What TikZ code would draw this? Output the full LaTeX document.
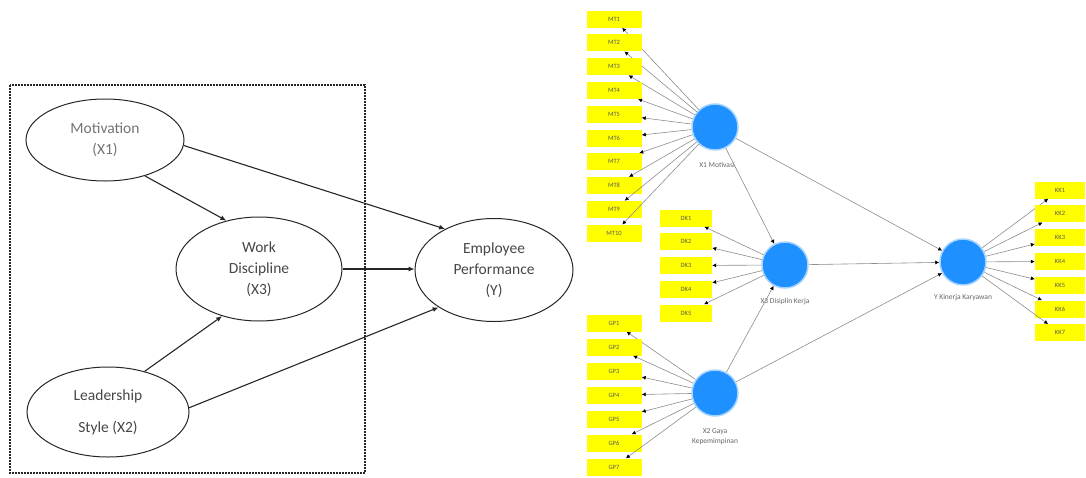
\documentclass[tikz,border=0pt]{standalone}
\usepackage{fontspec}
\setmainfont{Carlito}
\usetikzlibrary{arrows.meta,shapes.geometric}
\definecolor{plsblue}{RGB}{30,144,255}
\definecolor{plsyellow}{RGB}{255,255,0}
\definecolor{txtgray}{RGB}{70,70,70}
\definecolor{linegray}{RGB}{140,140,140}
\tikzset{
  lat/.style={ellipse,draw=black!85,line width=1pt,text=txtgray,align=center,inner sep=0pt,font=\fontsize{15.5}{21}\selectfont},
  patharrow/.style={draw=black!85,line width=1.1pt,-{Latex[length=6pt,width=5pt]}},
  ind/.style={rectangle,fill=plsyellow,minimum width=53pt,minimum height=17pt,inner sep=0pt,text=black!65,font=\fontsize{6.5}{7}\selectfont},
  cons/.style={circle,fill=plsblue,draw=plsblue!40,line width=1.5pt,minimum size=46pt,inner sep=0pt},
  plslbl/.style={text=black!60,font=\fontsize{7.5}{10}\selectfont,align=center,inner sep=0pt},
  plsarrow/.style={draw=linegray,line width=0.6pt,-{Latex[length=4pt,width=4pt,color=black]}}
}
\begin{document}
\begin{tikzpicture}[x=1pt,y=-1pt]
\useasboundingbox (0,0) rectangle (1086,477);
% ---------- left conceptual model ----------
\draw[line width=2.4pt,dash pattern=on 1.8pt off 1.2pt,black!85] (10,85) rectangle (365,473);
\node[lat,minimum width=158pt,minimum height=82pt,text=black!55] (x1) at (105,140) {Motivation\\(X1)};
\node[lat,minimum width=166pt,minimum height=104pt] (wd) at (259,269) {Work\\Discipline\\(X3)};
\node[lat,minimum width=162pt,minimum height=90pt,font=\fontsize{15.5}{32}\selectfont] (ls) at (108,412) {Leadership\\Style (X2)};
\node[lat,minimum width=158pt,minimum height=103pt] (ep) at (494,270) {Employee\\Performance\\(Y)};
\draw[patharrow] (x1.-4) -- (ep.140);
\draw[patharrow] (x1.-42) -- (wd.124);
\draw[patharrow] (wd.east) -- (wd.east -| ep.west);
\draw[patharrow] (ls.48) -- (wd.232);
\draw[patharrow] (ls.3) -- (ep.214);
% ---------- right SmartPLS model ----------
\node[cons] (cx1) at (715,127) {};
\node[cons] (cx3) at (785,265) {};
\node[cons] (cx2) at (715,393) {};
\node[cons] (cy) at (963,262) {};
\node[plslbl] (lx1) at (717,165) {X1 Motivasi};
\node[plslbl] (lx3) at (785,302) {X3 Disiplin Kerja};
\node[plslbl] (lx2) at (715,437) {X2 Gaya\\Kepemimpinan};
\node[plslbl] (ly) at (963,298) {Y Kinerja Karyawan};
\foreach \i in {1,...,10} {
  \node[ind,minimum width=55pt] (mt\i) at (614,{19+23.8*(\i-1)}) {MT\i};
  \draw[plsarrow] (cx1) -- (mt\i);
}
\foreach \i in {1,...,5} {
  \node[ind,minimum width=52pt] (dk\i) at (686,{218+23.75*(\i-1)}) {DK\i};
  \draw[plsarrow] (cx3) -- (dk\i);
}
\foreach \i in {1,...,7} {
  \node[ind,minimum width=55pt] (gp\i) at (614,{323+24*(\i-1)}) {GP\i};
  \draw[plsarrow] (cx2) -- (gp\i);
}
\foreach \i in {1,...,7} {
  \node[ind,minimum width=50pt] (kk\i) at (1060,{190+23.8*(\i-1)}) {KK\i};
  \draw[plsarrow] (cy) -- (kk\i);
}
\draw[plsarrow] (cx1) -- (cx3);
\draw[plsarrow] (cx1) -- (cy);
\draw[plsarrow] (cx3) -- (cy);
\draw[plsarrow] (cx2) -- (cx3);
\draw[plsarrow] (cx2) -- (cy);
\end{tikzpicture}
\end{document}
